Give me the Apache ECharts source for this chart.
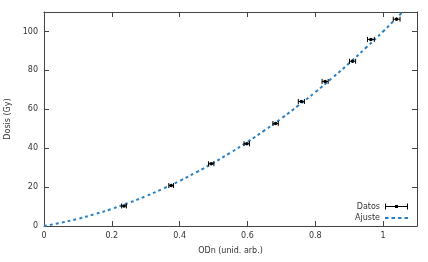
<!DOCTYPE html>
<html>
<head>
<meta charset="utf-8">
<script src="https://cdn.jsdelivr.net/npm/echarts@6/dist/echarts.min.js"></script>
<style>
  html, body { margin: 0; padding: 0; background: #fff; }
  #chart { width: 428px; height: 262px; }
</style>
</head>
<body>
<div id="chart"></div>
<script>
// datos medidos
var odn = [0.236, 0.375, 0.493, 0.598, 0.683, 0.759, 0.829, 0.91, 0.964, 1.04];
var dosis = [10.3, 20.8, 32.0, 42.3, 52.7, 64.0, 74.3, 84.7, 95.9, 106.3];
var errOdn = [0.007, 0.007, 0.008, 0.008, 0.008, 0.009, 0.009, 0.009, 0.01, 0.01];

// curva de ajuste
var ajusteX = [0, 0.05, 0.1, 0.15, 0.2, 0.25, 0.3, 0.35, 0.4, 0.45, 0.5, 0.55, 0.6, 0.65, 0.7, 0.75, 0.8, 0.85, 0.9, 0.95, 1.0, 1.05, 1.1];
var ajusteY = [0, 1.7, 3.7, 6.1, 8.8, 11.9, 15.3, 19.1, 23.2, 27.7, 32.5, 37.7, 43.2, 49.1, 55.3, 61.9, 68.8, 76.1, 83.7, 91.7, 100, 108.7, 117.7];

var txt = '#333';
var fontFam = 'DejaVu Sans';

var ptData = odn.map(function (x, i) { return [x, dosis[i], errOdn[i]]; });
var fitData = ajusteX.map(function (x, i) { return [x, ajusteY[i]]; });

var chart = echarts.init(document.getElementById('chart'));

var axisLine = { show: true, onZero: false, lineStyle: { color: '#444', width: 1 } };
var tick = { show: true, inside: true, length: 5, lineStyle: { color: '#444' } };
var lbl = { color: txt, fontSize: 8, fontFamily: fontFam, margin: 6, showMaxLabel: false };

chart.setOption({
  animation: false,
  grid: { left: 44, right: 11, top: 12, bottom: 36, outerBoundsMode: 'none' },
  legend: {
    right: 20,
    bottom: 40,
    padding: 0,
    orient: 'vertical',
    align: 'right',
    itemWidth: 23,
    itemHeight: 8,
    itemGap: 3.5,
    textStyle: { color: txt, fontSize: 8, fontFamily: fontFam },
    data: [
      { name: 'Datos', icon: 'path://M0,3.5h23v1h-23z M0,1h1v6h-1z M22,1h1v6h-1z M10,2.5h3v3h-3z' },
      { name: 'Ajuste', icon: 'path://M0,3h3.5v2h-3.5z M6.5,3h3.5v2h-3.5z M13,3h3.5v2h-3.5z M19.5,3h3.5v2h-3.5z' }
    ]
  },
  xAxis: [{
    type: 'value', min: 0, max: 1.1, interval: 0.2,
    name: 'ODn (unid. arb.)', nameLocation: 'middle', nameGap: 21,
    nameTextStyle: { color: txt, fontSize: 8, fontFamily: fontFam },
    axisLine: axisLine, axisTick: tick, axisLabel: lbl,
    splitLine: { show: false }
  }, {
    type: 'value', position: 'top', min: 0, max: 1.1, interval: 0.2,
    axisLine: axisLine, axisTick: tick, axisLabel: { show: false }, splitLine: { show: false }
  }],
  yAxis: [{
    type: 'value', min: 0, max: 110, interval: 20,
    name: 'Dosis (Gy)', nameLocation: 'middle', nameGap: 27,
    nameTextStyle: { color: txt, fontSize: 8, fontFamily: fontFam },
    axisLine: axisLine, axisTick: tick, axisLabel: lbl,
    splitLine: { show: false }
  }, {
    type: 'value', position: 'right', min: 0, max: 110, interval: 20,
    axisLine: axisLine, axisTick: tick, axisLabel: { show: false }, splitLine: { show: false }
  }],
  series: [
    {
      name: 'Ajuste',
      type: 'line',
      data: fitData,
      smooth: true,
      showSymbol: false,
      color: '#2a7fc0',
      lineStyle: { color: '#2a7fc0', width: 2, type: [3, 3] },
      z: 2
    },
    {
      name: 'Datos',
      type: 'custom',
      color: '#000',
      data: ptData,
      renderItem: function (params, api) {
        var x = api.value(0), y = api.value(1), e = api.value(2);
        var a = api.coord([x - e, y]);
        var b = api.coord([x + e, y]);
        var c = api.coord([x, y]);
        var st = { stroke: '#000', lineWidth: 1 };
        return {
          type: 'group',
          children: [
            { type: 'line', shape: { x1: a[0], y1: a[1], x2: b[0], y2: b[1] }, style: st },
            { type: 'line', shape: { x1: a[0], y1: a[1] - 2.5, x2: a[0], y2: a[1] + 2.5 }, style: st },
            { type: 'line', shape: { x1: b[0], y1: b[1] - 2.5, x2: b[0], y2: b[1] + 2.5 }, style: st },
            { type: 'circle', shape: { cx: c[0], cy: c[1], r: 1.8 }, style: { fill: '#000' } }
          ]
        };
      },
      z: 3
    }
  ]
});
</script>
</body>
</html>
